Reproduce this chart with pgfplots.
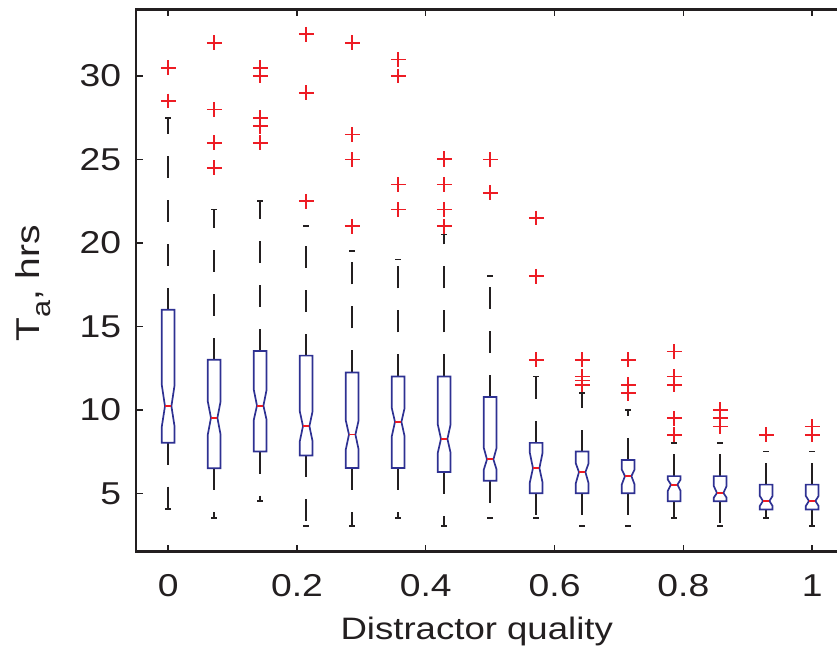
\documentclass[border=0pt]{standalone}
\usepackage{fontspec}
\setmainfont{Liberation Sans}[FakeStretch=1.18]
\usepackage{pgfplots}
\pgfplotsset{compat=1.18}
\definecolor{mblue}{RGB}{46,49,146}
\definecolor{mred}{RGB}{237,28,36}
\definecolor{mblack}{RGB}{35,31,32}
\pgfplotsset{
  whisk/.style={line width=0.85pt, color=mblack},
  boxs/.style={line width=0.85pt, color=mblue, line join=miter},
  meds/.style={line width=0.95pt, color=mred},
}
% x, lower whisker, q1, notch low, median, notch high, q3, upper whisker
\newcommand\nbox[8]{%
  \pgfmathsetmacro\xa{#1-0.0099}\pgfmathsetmacro\xb{#1+0.0099}%
  \pgfmathsetmacro\xc{#1-0.005}\pgfmathsetmacro\xd{#1+0.005}%
  \pgfmathsetmacro\xe{#1-0.0042}\pgfmathsetmacro\xf{#1+0.0042}%
  \edef\doit{%
    \noexpand\addplot[whisk, dash pattern=on 11pt off 11pt] coordinates {(#1,#7) (#1,#8)};
    \noexpand\addplot[whisk, dash pattern=on 11pt off 11pt] coordinates {(#1,#3) (#1,#2)};
    \noexpand\addplot[whisk] coordinates {(\xe,#8) (\xf,#8)};
    \noexpand\addplot[whisk] coordinates {(\xe,#2) (\xf,#2)};
    \noexpand\addplot[boxs] coordinates {(\xa,#7) (\xa,#6) (\xc,#5) (\xa,#4) (\xa,#3) (\xb,#3) (\xb,#4) (\xd,#5) (\xb,#6) (\xb,#7)} -- cycle;
    \noexpand\addplot[meds] coordinates {(\xc,#5) (\xd,#5)};
  }\doit}
\begin{document}
\begin{tikzpicture}
\begin{axis}[
  at={(0,0)}, anchor=south west,
  scale only axis, width=354.2pt, height=271.2pt,
  xmin=-0.05, xmax=1.05, ymin=1.5, ymax=34,
  xtick={0,0.2,0.4,0.6,0.8,1}, ytick={5,10,15,20,25,30},
  xticklabels={0,0.2,0.4,0.6,0.8,1},
  tick align=inside, major tick length=3.3pt,
  every tick/.style={line width=0.7pt, mblack},
  axis line style={line width=1.35pt, mblack},
  /pgf/number format/assume math mode=true,
  tick label style={font=\fontsize{15.8}{18}\selectfont, text=mblack},
  xticklabel style={anchor=base, yshift=-22.6pt, inner sep=0pt},
  yticklabel style={anchor=east, xshift=-7.2pt, inner sep=0pt},
  xlabel={Distractor quality},
  ylabel={T\raisebox{-0.32em}{\fontsize{13}{14}\selectfont a}, hrs},
  label style={font=\fontsize{15.5}{18}\selectfont, text=mblack},
  xlabel style={at={(axis description cs:0.481,-0.161)}, anchor=base, inner sep=0pt},
  ylabel style={at={(axis description cs:-0.136,0.495)}, anchor=base, inner sep=0pt, font=\fontsize{16.5}{18}\selectfont},
]
\nbox{0}{4.05}{8.03}{9.0}{10.22}{11.48}{16.0}{27.5}
\nbox{0.071429}{3.53}{6.5}{8.52}{9.52}{10.5}{13.0}{22.0}
\nbox{0.142857}{4.54}{7.5}{9.4}{10.25}{11.2}{13.53}{22.5}
\nbox{0.214286}{3.03}{7.27}{8.12}{9.02}{9.91}{13.25}{21.0}
\nbox{0.285714}{3.03}{6.51}{7.63}{8.52}{9.36}{12.24}{19.5}
\nbox{0.357143}{3.53}{6.51}{8.42}{9.28}{10.1}{12.0}{19.0}
\nbox{0.428571}{3.03}{6.27}{7.43}{8.26}{9.12}{12.0}{20.5}
\nbox{0.5}{3.53}{5.75}{6.42}{7.03}{7.72}{10.77}{18.0}
\nbox{0.571429}{3.53}{5.0}{5.64}{6.51}{7.43}{8.02}{12.0}
\nbox{0.642857}{3.03}{5.0}{5.6}{6.27}{6.79}{7.5}{11.0}
\nbox{0.714286}{3.03}{5.0}{5.53}{6.03}{6.42}{7.0}{10.0}
\nbox{0.785714}{3.53}{4.52}{5.15}{5.52}{5.82}{6.03}{8.02}
\nbox{0.857143}{3.03}{4.52}{4.74}{5.02}{5.43}{6.03}{8.0}
\nbox{0.928571}{3.53}{4.03}{4.24}{4.54}{4.84}{5.52}{7.5}
\nbox{1}{3.03}{4.03}{4.24}{4.54}{4.84}{5.52}{7.5}
\addplot[only marks, mark=+, mark size=3.7pt, color=mred, mark options={line width=0.85pt}] coordinates {
  (0,30.5) (0,28.5)
  (0.071429,32) (0.071429,28) (0.071429,26) (0.071429,24.5)
  (0.142857,30.5) (0.142857,30) (0.142857,27.5) (0.142857,27) (0.142857,26)
  (0.214286,32.5) (0.214286,29) (0.214286,22.5)
  (0.285714,32) (0.285714,26.5) (0.285714,25) (0.285714,21)
  (0.357143,31) (0.357143,30) (0.357143,23.5) (0.357143,22)
  (0.428571,25) (0.428571,25.05) (0.428571,23.5) (0.428571,22) (0.428571,21)
  (0.5,25) (0.5,23)
  (0.571429,21.5) (0.571429,18) (0.571429,13)
  (0.642857,13) (0.642857,12) (0.642857,11.75) (0.642857,11.5)
  (0.714286,13) (0.714286,11.5) (0.714286,11)
  (0.785714,13.5) (0.785714,12) (0.785714,11.5) (0.785714,9.5) (0.785714,8.5)
  (0.857143,10) (0.857143,9.5) (0.857143,9)
  (0.928571,8.5)
  (1,9) (1,8.5)
};
\end{axis}
\pgfresetboundingbox
\path[use as bounding box] (-68pt,-51.65pt) rectangle (350.5pt,275.85pt);
\end{tikzpicture}
\end{document}
